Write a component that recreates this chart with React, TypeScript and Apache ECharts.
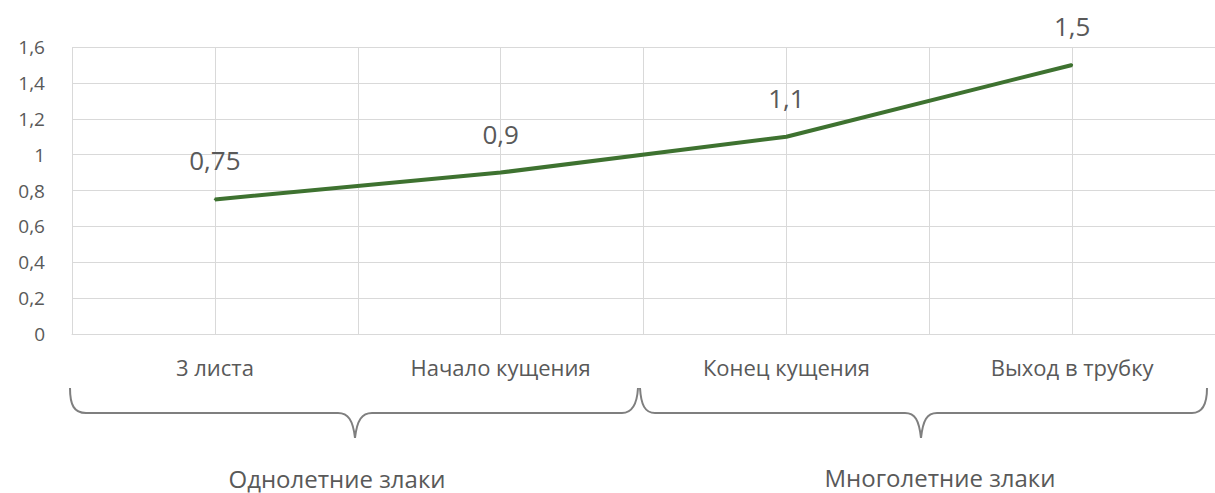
import React, { useEffect, useRef } from "react";
import * as echarts from "echarts";

const categories = ["3 листа", "Начало кущения", "Конец кущения", "Выход в трубку"];
const values = [0.75, 0.9, 1.1, 1.5];
const groupLabels = ["Однолетние злаки", "Многолетние злаки"];
const yTicks = { min: 0, max: 1.6, interval: 0.2 };

const FONT = "Open Sans";
const TEXT = "#595959";
const GRID = "#d9d9d9";
const GREEN = "#3e7230";

const fmt = (v: number) =>
  Number.isInteger(v) ? String(v) : String(+v.toFixed(2)).replace(".", ",");

const braceLeft =
  "M70,388 C70,405 74,413 86,413 L338,413 C348,413 353,420 355,438 C357,420 362,413 372,413 L622,413 C632,413 637,405 638,388";
const braceRight =
  "M640,388 C641,405 645,413 655,413 L905,413 C915,413 919,420 921,438 C923,420 927,413 937,413 L1192,413 C1202,413 1207,405 1207,388";

echarts.graphic.registerShape("braceL", echarts.graphic.extendPath(braceLeft, {}));
echarts.graphic.registerShape("braceR", echarts.graphic.extendPath(braceRight, {}));

export default function App() {
  const ref = useRef<HTMLDivElement>(null);
  useEffect(() => {
    if (!ref.current) return;
    const chart = echarts.init(ref.current, undefined, { renderer: "svg" });
    chart.setOption({
      animation: false,
      grid: { left: 72, right: -4.5, top: 47, bottom: 159 },
      xAxis: [
        {
          type: "category",
          data: categories,
          boundaryGap: true,
          axisLine: { show: true, lineStyle: { color: GRID, width: 1 } },
          axisTick: { show: false },
          axisLabel: { color: TEXT, fontFamily: FONT, fontSize: 22, margin: 22 },
          splitLine: { show: false },
        },
        {
          type: "value",
          min: 0,
          max: categories.length * 2,
          interval: 1,
          position: "bottom",
          axisLine: { show: false },
          axisTick: { show: false },
          axisLabel: { show: false },
          splitLine: { show: true, lineStyle: { color: GRID, width: 1 } },
        },
      ],
      yAxis: {
        type: "value",
        min: yTicks.min,
        max: yTicks.max,
        interval: yTicks.interval,
        axisLine: { show: false },
        axisTick: { show: false },
        axisLabel: {
          color: TEXT,
          fontFamily: FONT,
          fontSize: 19,
          margin: 27,
          formatter: (v: number) => fmt(v),
        },
        splitLine: { show: true, lineStyle: { color: GRID, width: 1 } },
      },
      series: [
        {
          type: "line",
          xAxisIndex: 0,
          data: values,
          showSymbol: true,
          symbol: "circle",
          symbolSize: 2,
          itemStyle: { color: GREEN },
          lineStyle: { color: GREEN, width: 4 },
          label: {
            show: true,
            position: "top",
            distance: 25,
            color: TEXT,
            fontFamily: FONT,
            fontSize: 26,
            formatter: (p: any) => fmt(p.value),
          },
        },
      ],
      graphic: [
        { type: "braceL", x: 0, y: 0, style: { fill: "none", stroke: "#7f7f7f", lineWidth: 2 } },
        { type: "braceR", x: 0, y: 0, style: { fill: "none", stroke: "#7f7f7f", lineWidth: 2 } },
        {
          type: "text",
          x: 337,
          y: 478,
          style: {
            text: groupLabels[0],
            fill: TEXT,
            font: `24px "${FONT}"`,
            lineHeight: 22,
            align: "center",
            verticalAlign: "middle",
          },
        },
        {
          type: "text",
          x: 940,
          y: 477,
          style: {
            text: groupLabels[1],
            fill: TEXT,
            font: `24px "${FONT}"`,
            lineHeight: 22,
            align: "center",
            verticalAlign: "middle",
          },
        },
      ],
    });
    return () => chart.dispose();
  }, []);
  return (
    <div
      ref={ref}
      style={{ position: "absolute", left: 0, top: 0, width: 1215, height: 493 }}
    />
  );
}
